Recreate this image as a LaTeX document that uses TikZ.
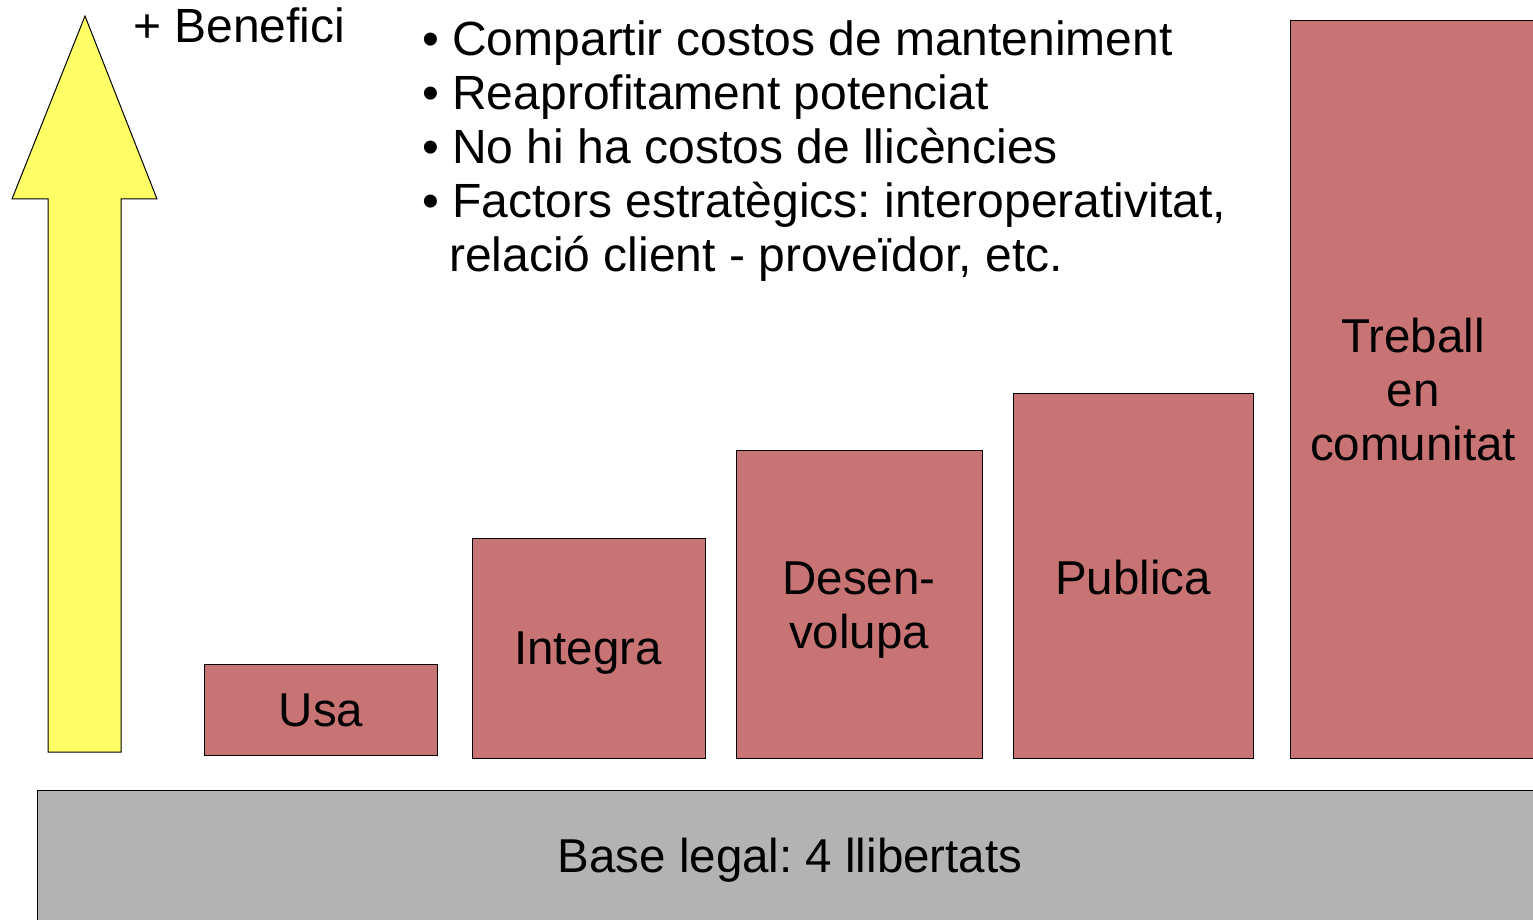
\documentclass[tikz,border=0pt]{standalone}
\usepackage{fontspec}
\setmainfont{Liberation Sans}
\frenchspacing
\definecolor{boxred}{HTML}{C87474}
\definecolor{basegray}{HTML}{B3B3B3}
\definecolor{arrowyellow}{HTML}{FFFF66}
\begin{document}
\begin{tikzpicture}[x=1pt,y=-1pt,
  bar/.style={draw=black,line width=1pt,fill=boxred},
  lbl/.style={inner sep=0pt,anchor=base,font=\fontsize{47.5}{54}\selectfont},
  txt/.style={inner sep=0pt,anchor=base west,font=\fontsize{48}{54}\selectfont}]
\useasboundingbox (0,0) rectangle (1533,920);
\clip (0,0) rectangle (1533,920);
% arrow
\draw[fill=arrowyellow,line width=1pt,line join=miter] (85,16) -- (157,199) -- (121,199) -- (121,752) -- (48,752) -- (48,199) -- (12,199) -- cycle;
\node[txt] (benefici) at (133,43) {+ Benefici};
% bullets
\node[txt] (b1) at (422,56) {• Compartir costos de manteniment};
\node[txt] (b2) at (422,110) {• Reaprofitament potenciat};
\node[txt] (b3) at (422,164) {• No hi ha costos de llicències};
\node[txt] (b4) at (422,217) {• Factors estratègics: interoperativitat,};
\node[txt] (b5) at (449,271) {relació client - proveïdor, etc.};
% bars
\draw[bar] (204,664) rectangle (437,755);
\draw[bar] (472,538) rectangle (705,758);
\draw[bar] (736,450) rectangle (982,758);
\draw[bar] (1013,393) rectangle (1253,758);
\draw[bar] (1290,21) rectangle (1560,758);
\node[lbl] (usa) at (321,726) {Usa};
\node[lbl] (integra) at (588,664) {Integra};
\node[lbl] (desen) at (859,594) {Desen-};
\node[lbl] (volupa) at (859,648) {volupa};
\node[lbl] (publica) at (1133,594) {Publica};
\node[lbl] (treball) at (1413,352) {Treball};
\node[lbl] (en) at (1413,406) {en};
\node[lbl] (comunitat) at (1413,460) {comunitat};
% base
\draw[fill=basegray,line width=1pt] (37,790) rectangle (1560,950);
\node[lbl] (base) at (790,872) {Base legal: 4 llibertats};
\end{tikzpicture}
\end{document}
